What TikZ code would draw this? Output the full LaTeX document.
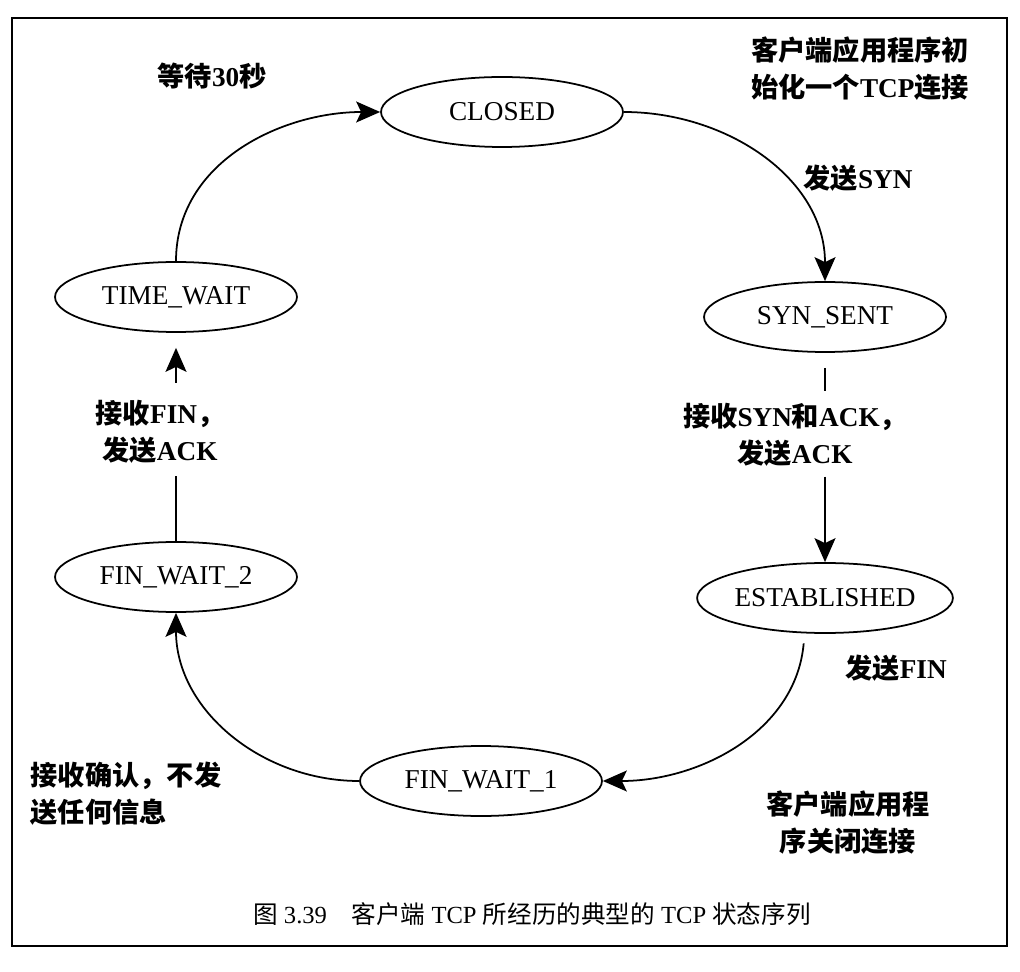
\documentclass[tikz,border=0pt]{standalone}
\usepackage{fontspec}
\setmainfont{Liberation Serif}
\newfontfamily\cjk{Noto Sans CJK SC}
\usetikzlibrary{shapes.geometric,arrows.meta}
\newcommand{\zh}[1]{{\cjk #1}}

\begin{document}
\begin{tikzpicture}[x=0.02cm, y=0.02cm, line width=1pt,
  state/.style={draw, ellipse, minimum width=4.84cm, minimum height=1.4cm,
                inner sep=0pt, font=\fontsize{15.5}{18}\selectfont},
  lbl/.style={align=center, inner sep=1pt, font=\fontsize{15.5}{21}\selectfont\bfseries},
  trans/.style={-{Stealth[length=0.48cm,width=0.42cm,inset=0.1cm]}}]
  % Fix the page size and draw the frame
  \useasboundingbox (0,0) rectangle (1020,-972);
  \draw[line width=1.2pt] (12,-18) rectangle (1007,-946);

  % States, clockwise from the top
  \node[state] (closed)   at (502,-112) {CLOSED};      % Top
  \node[state] (synsent)  at (825,-317) {SYN\_SENT};   % Upper-right
  \node[state] (estab)    at (825,-598) {ESTABLISHED}; % Lower-right
  \node[state] (finwait1) at (481,-781) {FIN\_WAIT\_1};% Bottom
  \node[state] (finwait2) at (176,-577) {FIN\_WAIT\_2};% Lower-left
  \node[state] (timewait) at (176,-297) {TIME\_WAIT};  % Upper-left

  % Event labels
  \node[lbl] (wait30)   at (212,-76)  {\zh{等待}30\zh{秒}};
  \node[lbl] (openlbl)  at (860,-69)  {\zh{客户端应用程序初}\\\zh{始化一个}TCP\zh{连接}};
  \node[lbl] (synlbl)   at (858,-178) {\zh{发送}SYN};
  \node[lbl] (synack)   at (795,-435) {\zh{接收}SYN\zh{和}ACK\zh{，}\\\zh{发送}ACK};
  \node[lbl] (finlbl)   at (896,-668) {\zh{发送}FIN};
  \node[lbl] (closelbl) at (848,-823) {\zh{客户端应用程}\\\zh{序关闭连接}};
  \node[lbl, align=left, anchor=west] (acklbl) at (28,-794)
        {\zh{接收确认，不发}\\\zh{送任何信息}};
  \node[lbl] (finack)   at (160,-432) {\zh{接收}FIN\zh{，}\\\zh{发送}ACK};

  % Transitions
  \draw[trans] (closed.east) to[out=0, in=90] (synsent.north);
  \draw[shorten <=0.3cm, shorten >=0.2cm] (synsent.south) -- (synsent.south |- synack.north);
  \draw[trans, shorten <=0.15cm] (estab.north |- synack.south) -- (estab.north);
  \draw[trans, shorten <=0.2cm] (estab.-120) to[out=-95, in=0] (finwait1.east);
  \draw[trans] (finwait1.west) to[out=180, in=-90] (finwait2.south);
  \draw[shorten >=0.2cm] (finwait2.north) -- (finwait2.north |- finack.south);
  \draw[trans, shorten <=0.3cm, shorten >=0.3cm] (timewait.south |- finack.north) -- (timewait.south);
  \draw[trans] (timewait.north) to[out=90, in=180] (closed.west);

  % Caption
  \node[font=\fontsize{14}{16}\selectfont] (caption) at (532,-914)
        {\zh{图} 3.39\quad \zh{客户端} TCP \zh{所经历的典型的} TCP \zh{状态序列}};
\end{tikzpicture}
\end{document}
